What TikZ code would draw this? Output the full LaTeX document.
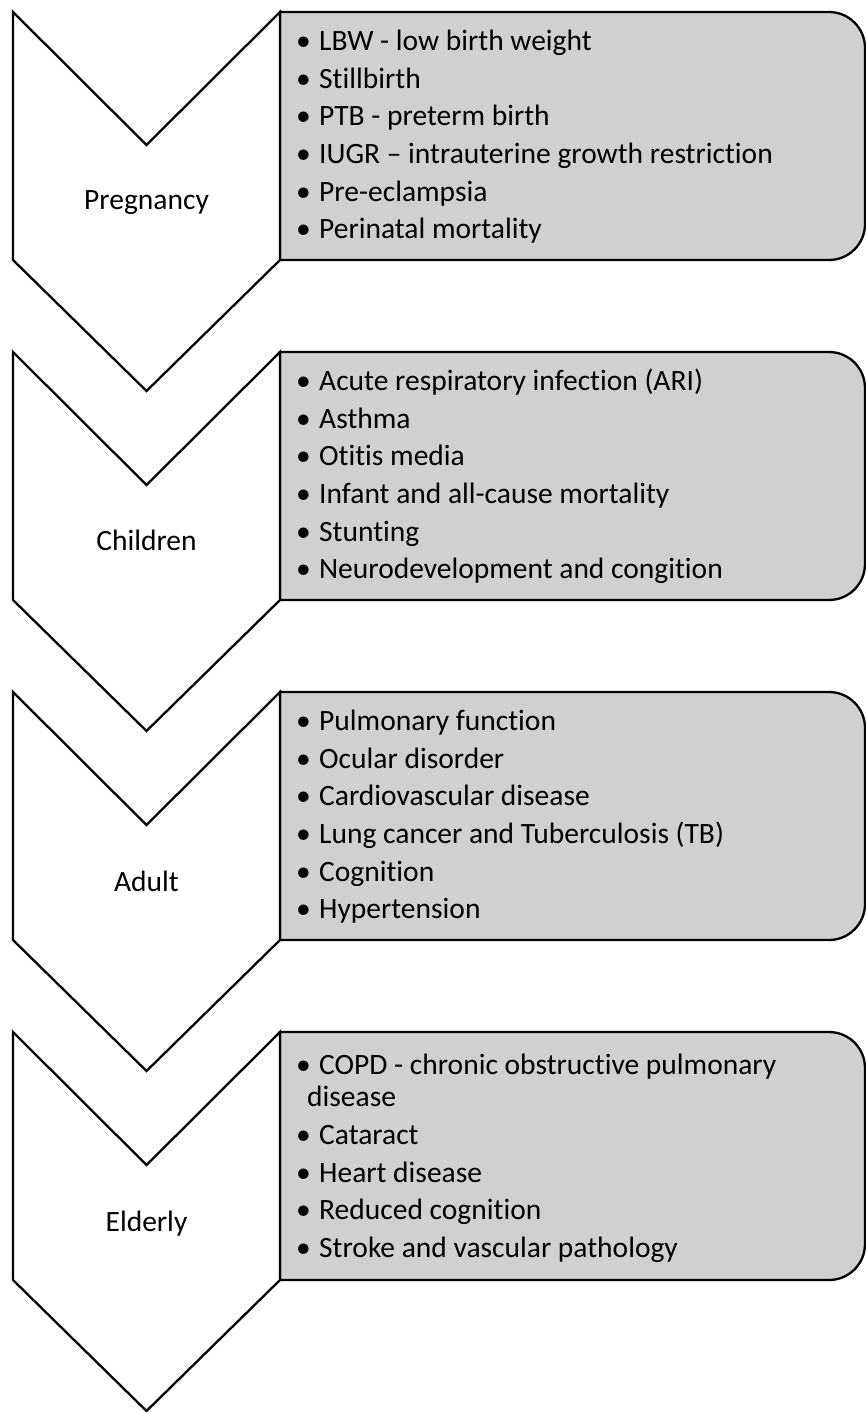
\documentclass[tikz,border=0pt]{standalone}
\usepackage{fontspec}
\setmainfont{Carlito}[Ligatures=NoCommon]
\definecolor{panelgray}{RGB}{208,208,208}
\begin{document}
\begin{tikzpicture}[x=1pt,y=-1pt,
  outline/.style={draw=black,line width=2.3pt,line join=miter},
  chevronshape/.style={outline,fill=white},
  panel/.style={outline,fill=panelgray},
  itemtext/.style={anchor=base west,inner sep=0pt,font=\fontsize{29.5}{35}\selectfont},
  stagelabel/.style={anchor=base,inner sep=0pt,font=\fontsize{29.5}{35}\selectfont}]
\useasboundingbox (0,0) rectangle (866,1412);
% rounded panels on the right, chevrons on the left
\foreach \T in {12,352,692,1032}{
  \draw[panel] (280,\T) -- (829,\T) arc[start angle=-90,end angle=0,radius=36]
     -- (865,{\T+212}) arc[start angle=0,end angle=90,radius=36]
     -- (280,{\T+248}) -- cycle;
  \draw[chevronshape] (13,\T) -- (146.5,{\T+133}) -- (280,\T) -- (280,{\T+248})
     -- (146.5,{\T+379}) -- (13,{\T+248}) -- cycle;
}
% stage names
\node[stagelabel] (pregnancy) at (146.5,210) {Pregnancy};
\node[stagelabel] (children)  at (146.5,550) {Children};
\node[stagelabel] (adult)     at (146.5,891) {Adult};
\node[stagelabel] (elderly)   at (146.5,1231) {Elderly};
% outcome lists
\foreach \txt [count=\i] in {{LBW - low birth weight},{Stillbirth},{PTB - preterm birth},
   {IUGR – intrauterine growth restriction},{Pre-eclampsia},{Perinatal mortality}}
  \node[itemtext] (preg-\i) at (296,{50.7+37.6*(\i-1)}) {\makebox[23pt][l]{•}\txt};
\foreach \txt [count=\i] in {{Acute respiratory infection (ARI)},{Asthma},{Otitis media},
   {Infant and all-cause mortality},{Stunting},{Neurodevelopment and congition}}
  \node[itemtext] (child-\i) at (296,{390.7+37.6*(\i-1)}) {\makebox[23pt][l]{•}\txt};
\foreach \txt [count=\i] in {{Pulmonary function},{Ocular disorder},{Cardiovascular disease},
   {Lung cancer and Tuberculosis (TB)},{Cognition},{Hypertension}}
  \node[itemtext] (adult-\i) at (296,{730.7+37.6*(\i-1)}) {\makebox[23pt][l]{•}\txt};
\node[itemtext] (eld-1) at (296,1074.5) {\makebox[23pt][l]{•}COPD - chronic obstructive pulmonary};
\node[itemtext] (eld-1b) at (307,1106.5) {disease};
\foreach \txt [count=\i] in {{Cataract},{Heart disease},{Reduced cognition},{Stroke and vascular pathology}}
  \node[itemtext] (eld-\i+1) at (296,{1144.5+37.5*(\i-1)}) {\makebox[23pt][l]{•}\txt};
\end{tikzpicture}
\end{document}
